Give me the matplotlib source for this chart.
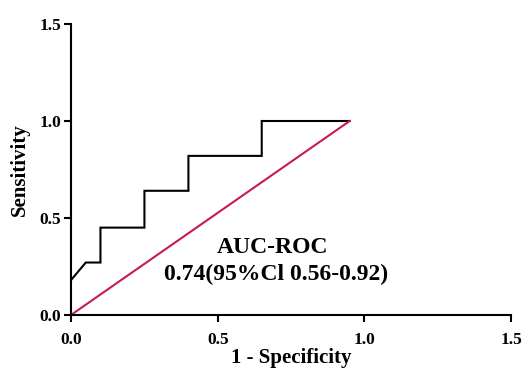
import matplotlib.pyplot as plt

# ROC curve points (1 - specificity, sensitivity)
fpr = [0.0, 0.05, 0.10, 0.10, 0.25, 0.25, 0.40, 0.40, 0.65, 0.65, 0.95]
tpr = [0.18, 0.27, 0.27, 0.45, 0.45, 0.64, 0.64, 0.82, 0.82, 1.0, 1.0]
# reference line
ref_x = [0.0, 0.95]
ref_y = [0.0, 1.0]
ticks = [0.0, 0.5, 1.0, 1.5]
tick_labels = ["0.0", "0.5", "1.0", "1.5"]

plt.rcParams['font.family'] = ['Liberation Serif', 'DejaVu Serif']
plt.rcParams['font.weight'] = 'bold'

fig = plt.figure(figsize=(5.23, 3.70), dpi=100)
ax = fig.add_axes([0.136, 0.149, 0.841, 0.786])

ax.plot(fpr, tpr, color="black", lw=1.5, solid_joinstyle="miter")
ax.plot(ref_x, ref_y, color="#c8175a", lw=1.5)

ax.set_xlim(0, 1.5)
ax.set_ylim(0, 1.5)
ax.set_xticks(ticks)
ax.set_xticklabels(tick_labels, fontsize=12.5, fontweight="bold")
ax.set_yticks(ticks)
ax.set_yticklabels(tick_labels, fontsize=12.5, fontweight="bold")
ax.tick_params(length=5, width=1.5)
ax.tick_params(axis="x", pad=7)
ax.tick_params(axis="y", pad=2)

for s in ["top", "right"]:
    ax.spines[s].set_visible(False)
for s in ["left", "bottom"]:
    ax.spines[s].set_linewidth(1.5)

ax.set_xlabel("1 - Specificity", fontsize=15, fontweight="bold", labelpad=0)
ax.set_ylabel("Sensitivity", fontsize=15, fontweight="bold", labelpad=7)

# AUC annotation
ax.text(0.687, 0.32, "AUC-ROC", ha="center", va="baseline",
        fontsize=17, fontweight="bold")
ax.text(0.699, 0.18, "0.74(95%Cl 0.56-0.92)", ha="center", va="baseline",
        fontsize=17, fontweight="bold")

fig.savefig("out.png", dpi=100)
